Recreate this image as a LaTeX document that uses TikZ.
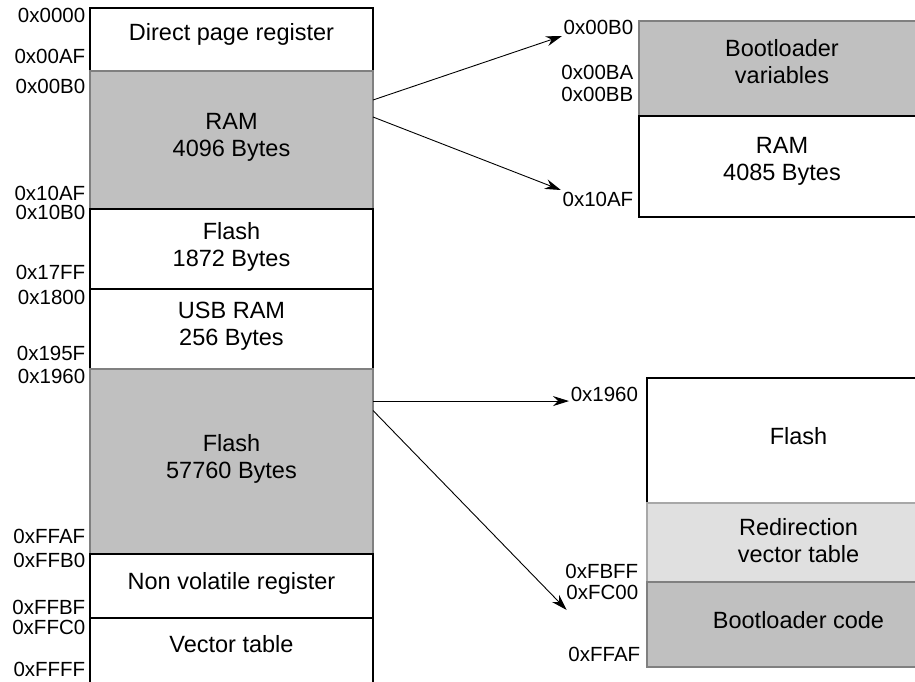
\documentclass[tikz,border=0pt]{standalone}
\usepackage{fontspec}
\setmainfont{Liberation Sans}
\usetikzlibrary{arrows.meta, positioning}

\definecolor{memgray}{HTML}{C0C0C0}
\definecolor{edgegray}{HTML}{808080}
\definecolor{memlight}{HTML}{E0E0E0}
\definecolor{edgelight}{HTML}{A8A8A8}

\begin{document}
\begin{tikzpicture}[x=1pt, y=-1pt, >={Stealth[length=16pt, width=10pt]}, line width=1.5pt,
        block/.style={rectangle, draw=black, fill=white, inner sep=0pt, outer sep=0pt, align=center,
                      minimum width=283pt, text depth=10pt, font=\fontsize{23.5}{27}\selectfont},
        grayblock/.style={block, draw=edgegray, fill=memgray},
        lightblock/.style={block, draw=edgelight, fill=memlight},
        addr/.style={inner sep=1pt, font=\fontsize{20.5}{22}\selectfont},
        link/.style={->, line width=0.9pt}]
        \clip (0,0) rectangle (915,681);

        % Left memory map
        \node[block, minimum height=63pt, text depth=15pt] (dpr) at (231.5,39.5) {Direct page register};
        \node[grayblock, minimum height=138pt, below=0pt of dpr] (ram) {RAM\\4096 Bytes};
        \node[block, minimum height=80pt, below=0pt of ram] (flashone) {Flash\\1872 Bytes};
        \node[block, minimum height=80pt, below=0pt of flashone] (usbram) {USB RAM\\256 Bytes};
        \node[grayblock, minimum height=185pt, below=0pt of usbram] (flashtwo) {Flash\\57760 Bytes};
        \node[block, minimum height=64pt, below=0pt of flashtwo] (nvreg) {Non volatile register};
        \node[block, minimum height=82pt, text depth=30pt, below=0pt of nvreg] (vtab) {Vector table};

        % Right memory maps
        \node[grayblock, minimum width=286pt, minimum height=95pt, text depth=14pt] (bootvar) at (782,68.5) {Bootloader\\variables};
        \node[block, minimum width=286pt, minimum height=101pt, text depth=16pt, below=0pt of bootvar] (ramtwo) {RAM\\4085 Bytes};

        \node[block, minimum width=303pt, minimum height=125pt] (flashb) at (798.5,440.5) {Flash};
        \node[lightblock, minimum width=303pt, minimum height=79pt, text depth=5pt, below=0pt of flashb] (redir) {Redirection\\vector table};
        \node[grayblock, minimum width=303pt, minimum height=85pt, below=0pt of redir] (bootcode) {Bootloader code};

        % Addresses
        \foreach \txt/\ypos in {0x0000/15, 0x00AF/56, 0x00B0/86, 0x10AF/193, 0x10B0/212, 0x17FF/272,
                0x1800/297, 0x195F/353, 0x1960/376, 0xFFAF/536, 0xFFB0/560, 0xFFBF/607, 0xFFC0/627, 0xFFFF/669}
            \node[addr, anchor=east] (L\txt) at (87,\ypos) {\txt};

        \foreach \txt/\ypos in {0x00B0/27, 0x00BA/72, 0x00BB/94, 0x10AF/199}
            \node[addr, anchor=east] (R\txt) at (635,\ypos) {\txt};

        \node[addr, anchor=west] (B0x1960) at (569,394) {0x1960};
        \node[addr, anchor=east] (B0xFBFF) at (640,571) {0xFBFF};
        \node[addr, anchor=east] (B0xFC00) at (640,592) {0xFC00};
        \node[addr, anchor=east] (B0xFFAF) at (642,654) {0xFFAF};

        % Arrows
        \draw[link] ([yshift=40pt]ram.east) -- (R0x00B0.south west);
        \draw[link] ([yshift=23pt]ram.east) -- (R0x10AF.north west);
        \draw[link] (flashtwo.east |- B0x1960.base west) -- (B0x1960.base west);
        \draw[link] ([yshift=51pt]flashtwo.east) -- ([yshift=35pt]B0xFFAF.north west);

\end{tikzpicture}
\end{document}
